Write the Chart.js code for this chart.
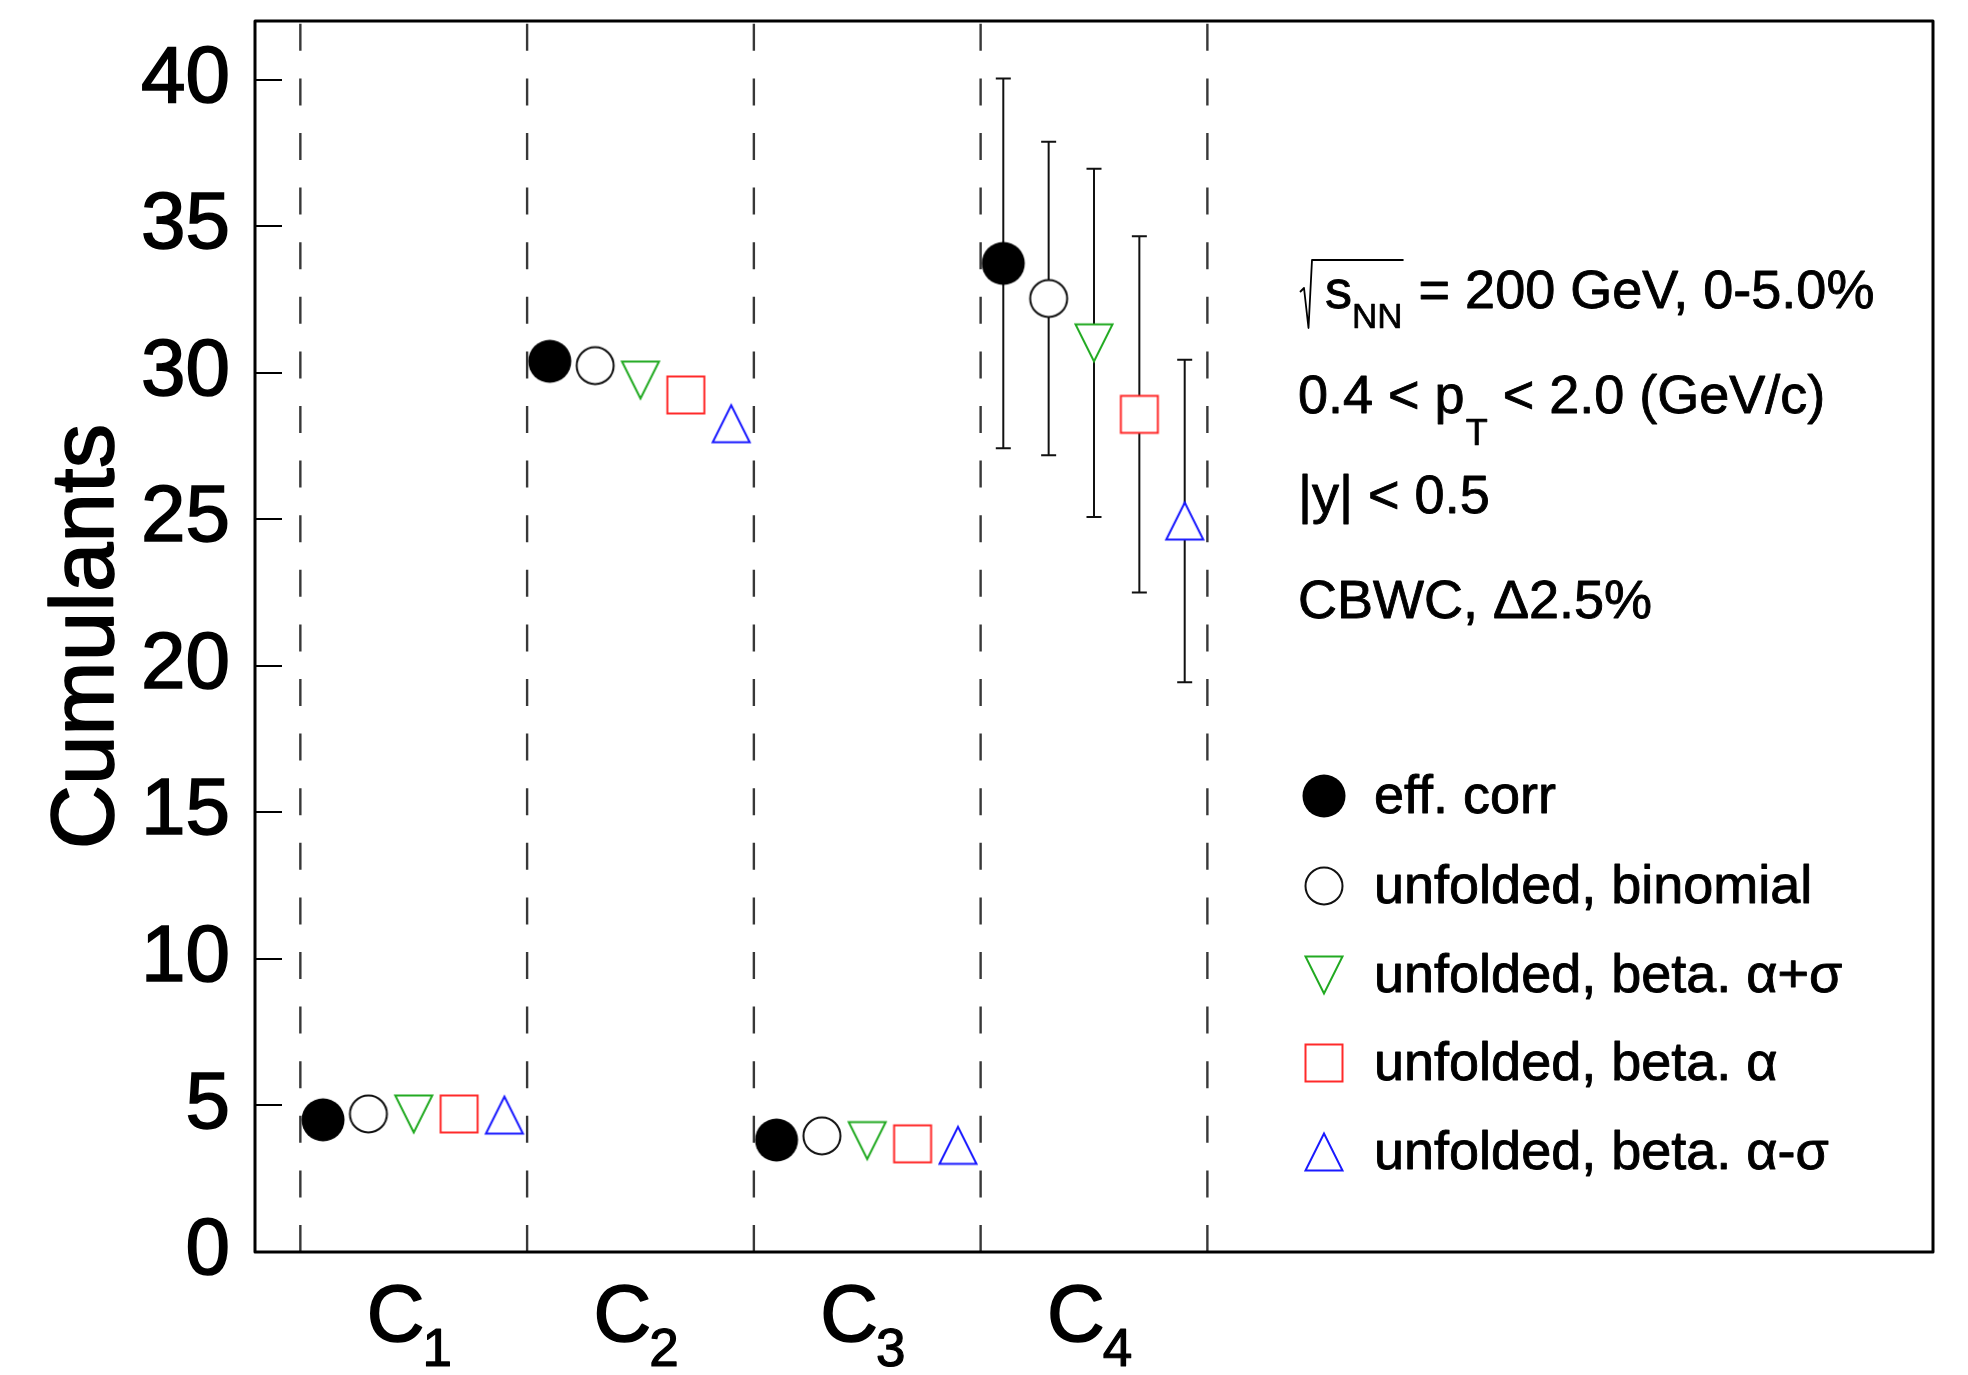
<!DOCTYPE html>
<html><head><meta charset="utf-8">
<script src="https://cdn.jsdelivr.net/npm/chart.js@4.4.1/dist/chart.umd.min.js"></script>
<style>html,body{margin:0;padding:0;background:#fff;} canvas{display:block;}</style>
</head><body>
<canvas id="c" width="1968" height="1375"></canvas>
<script>
// ---- data ----
const categories = ['C1', 'C2', 'C3', 'C4'];
const seriesNames = ['eff. corr', 'unfolded, binomial', 'unfolded, beta. \u03b1+\u03c3', 'unfolded, beta. \u03b1', 'unfolded, beta. \u03b1-\u03c3'];
const effCorr = [4.51, 30.39, 3.82, 33.73];
const effCorrErr = [0, 0, 0, 6.31];
const unfoldedBinomial = [4.71, 30.24, 3.96, 32.53];
const unfoldedBinomialErr = [0, 0, 0, 5.35];
const unfoldedBetaPlus = [4.71, 29.75, 3.80, 31.02];
const unfoldedBetaPlusErr = [0, 0, 0, 5.94];
const unfoldedBeta = [4.71, 29.24, 3.69, 28.58];
const unfoldedBetaErr = [0, 0, 0, 6.08];
const unfoldedBetaMinus = [4.67, 28.26, 3.64, 24.94];
const unfoldedBetaMinusErr = [0, 0, 0, 5.50];
const yTickStep = 5;
const yRange = [0, 42];
const xRange = [0.3, 7.7];
const separators = [0.5, 1.5, 2.5, 3.5, 4.5];
const yTitle = 'Cumulants';
const infoLines = [
  [{sqrt: 's', sub: 'NN'}, {t: ' = 200 GeV, 0-5.0%'}],
  [{t: '0.4 < p'}, {sub: 'T'}, {t: ' < 2.0 (GeV/c)'}],
  [{t: '|y| < 0.5'}],
  [{t: 'CBWC, \u03942.5%'}]
];

// ---- styles ----
const FONT = "'Liberation Sans', Arial, Helvetica, sans-serif";
const offsets = [-0.4, -0.2, 0, 0.2, 0.4];

function makeMarker(kind, color) {
  const c = document.createElement('canvas');
  const S = 46; c.width = S; c.height = S;
  const g = c.getContext('2d');
  const m = S / 2;
  g.lineWidth = 2; g.strokeStyle = color; g.fillStyle = '#fff';
  g.beginPath();
  if (kind === 'filledCircle') {
    g.fillStyle = color; g.arc(m, m, 21.5, 0, Math.PI * 2); g.fill(); return c;
  }
  if (kind === 'openCircle') { g.arc(m, m, 18.5, 0, Math.PI * 2); }
  if (kind === 'triDown') { g.moveTo(m - 18.5, m - 18.5); g.lineTo(m + 18.5, m - 18.5); g.lineTo(m, m + 18.5); g.closePath(); }
  if (kind === 'triUp') { g.moveTo(m - 18.5, m + 18.5); g.lineTo(m + 18.5, m + 18.5); g.lineTo(m, m - 18.5); g.closePath(); }
  if (kind === 'square') { g.rect(m - 18.5, m - 18.5, 37, 37); }
  g.fill(); g.stroke();
  return c;
}

const seriesList = [
  {name: seriesNames[0], values: effCorr, errors: effCorrErr, marker: makeMarker('filledCircle', '#000')},
  {name: seriesNames[1], values: unfoldedBinomial, errors: unfoldedBinomialErr, marker: makeMarker('openCircle', '#111')},
  {name: seriesNames[2], values: unfoldedBetaPlus, errors: unfoldedBetaPlusErr, marker: makeMarker('triDown', '#22aa22')},
  {name: seriesNames[3], values: unfoldedBeta, errors: unfoldedBetaErr, marker: makeMarker('square', '#ff2a2a')},
  {name: seriesNames[4], values: unfoldedBetaMinus, errors: unfoldedBetaMinusErr, marker: makeMarker('triUp', '#1a1aff')}
];

const datasets = seriesList.map((s, si) => ({
  label: s.name,
  data: s.values.map((v, i) => ({x: i + 1 + offsets[si], y: v})),
  pointStyle: s.marker,
  pointRadius: 20,
  showLine: false,
  order: 1
}));
separators.forEach(xv => datasets.push({
  label: '',
  data: [{x: xv, y: yRange[0]}, {x: xv, y: yRange[1]}],
  showLine: true,
  borderColor: '#383838',
  borderWidth: 2.4,
  borderDash: [27, 27.6],
  pointRadius: 0,
  order: 5
}));

function txt(ctx, s, x, y, sw) {
  ctx.lineWidth = sw; ctx.strokeStyle = '#000';
  if (sw > 0) ctx.strokeText(s, x, y);
  ctx.fillText(s, x, y);
}

const bgPlugin = {
  id: 'bg',
  beforeDraw(chart) {
    const ctx = chart.ctx; ctx.save(); ctx.fillStyle = '#fff'; ctx.fillRect(0, 0, chart.width, chart.height); ctx.restore();
  }
};

const errorBars = {
  id: 'errorBars',
  beforeDatasetsDraw(chart) {
    const {ctx, scales: {x, y}} = chart;
    ctx.save(); ctx.strokeStyle = '#111'; ctx.lineWidth = 2;
    seriesList.forEach((s, si) => {
      s.values.forEach((v, i) => {
        const e = s.errors[i]; if (!e) return;
        const px = x.getPixelForValue(i + 1 + offsets[si]);
        const top = y.getPixelForValue(v + e), bot = y.getPixelForValue(v - e);
        ctx.beginPath();
        ctx.moveTo(px, top); ctx.lineTo(px, bot);
        ctx.moveTo(px - 7.5, top); ctx.lineTo(px + 7.5, top);
        ctx.moveTo(px - 7.5, bot); ctx.lineTo(px + 7.5, bot);
        ctx.stroke();
      });
    });
    ctx.restore();
  }
};

const decor = {
  id: 'decor',
  afterDraw(chart) {
    const {ctx, chartArea: a, scales: {x, y}} = chart;
    ctx.save();
    ctx.lineJoin = 'round';
    // y ticks (inside)
    ctx.strokeStyle = '#000'; ctx.lineWidth = 2;
    y.ticks.forEach(t => {
      const py = Math.round(y.getPixelForValue(t.value));
      ctx.beginPath(); ctx.moveTo(a.left, py); ctx.lineTo(a.left + 27, py); ctx.stroke();
    });
    // frame
    ctx.lineWidth = 3;
    ctx.strokeRect(a.left, a.top, a.right - a.left, a.bottom - a.top);
    ctx.fillStyle = '#000';
    // y title (rotated)
    ctx.save();
    ctx.translate(y.left + 88, (y.top + y.bottom) / 2);
    ctx.rotate(-Math.PI / 2);
    ctx.font = '89px ' + FONT; ctx.textAlign = 'center'; ctx.textBaseline = 'middle';
    txt(ctx, yTitle, 0, 0, 1.6);
    ctx.restore();
    // category labels with subscripts
    ctx.textAlign = 'left'; ctx.textBaseline = 'alphabetic';
    categories.forEach((c, i) => {
      const px = x.getPixelForValue(i + 1);
      ctx.font = '80px ' + FONT;
      const main = c.charAt(0), sub = c.slice(1);
      const x0 = px - 47;
      txt(ctx, main, x0, 1341, 1.6);
      const w = ctx.measureText(main).width;
      ctx.font = '53px ' + FONT;
      txt(ctx, sub, x0 + w - 2, 1366, 1.2);
    });
    // info text
    const baselines = [308, 413, 513, 618];
    infoLines.forEach((segs, li) => {
      let cx = 1298;
      const by = baselines[li];
      segs.forEach(sg => {
        if (sg.sqrt) {
          ctx.font = '54px ' + FONT;
          const sx = 1325;
          txt(ctx, sg.sqrt, sx, by, 0.9);
          const sw = ctx.measureText(sg.sqrt).width;
          ctx.font = '35px ' + FONT;
          txt(ctx, sg.sub, sx + sw, by + 20, 0.7);
          const end = sx + sw + ctx.measureText(sg.sub).width + 1;
          ctx.lineWidth = 1.8;
          ctx.beginPath();
          ctx.moveTo(1300, 292); ctx.lineTo(1304, 288); ctx.lineTo(1308.5, 328); ctx.lineTo(1312, 260); ctx.lineTo(end, 260);
          ctx.stroke();
          cx = end;
        } else if (sg.sub) {
          ctx.font = '36px ' + FONT;
          txt(ctx, sg.sub, cx + 1, by + 32, 0.7);
          cx += ctx.measureText(sg.sub).width + 1;
        } else {
          ctx.font = '54px ' + FONT;
          txt(ctx, sg.t, cx, by, 0.9);
          cx += ctx.measureText(sg.t).width;
        }
      });
    });
    // legend
    const rows = [796, 886, 975, 1063, 1152];
    ctx.font = '54px ' + FONT;
    chart.data.datasets.forEach((ds, i) => {
      if (i >= seriesList.length) return;
      const m = ds.pointStyle;
      ctx.drawImage(m, 1324 - m.width / 2, rows[i] - m.height / 2);
      txt(ctx, ds.label, 1374, rows[i] + 17, 0.9);
    });
    ctx.restore();
  }
};

new Chart(document.getElementById('c'), {
  type: 'scatter',
  data: {datasets},
  plugins: [bgPlugin, errorBars, decor],
  options: {
    responsive: false,
    animation: false,
    events: [],
    layout: {padding: {left: 0, top: 15, right: 35, bottom: 123}},
    plugins: {legend: {display: false}, tooltip: {enabled: false}},
    scales: {
      x: {type: 'linear', min: xRange[0], max: xRange[1], display: false},
      y: {
        type: 'linear', min: yRange[0], max: yRange[1],
        grid: {display: false, drawTicks: false},
        border: {display: false},
        ticks: {stepSize: yTickStep, includeBounds: false, autoSkip: false, padding: 25, color: '#000',
                textStrokeColor: '#000', textStrokeWidth: 1.6,
                font: {family: FONT, size: 80}},
        title: {display: false},
        afterFit(scale) { scale.width = 255; scale.paddingTop = 0; scale.paddingBottom = 0; }
      }
    }
  }
});
</script>
</body></html>
